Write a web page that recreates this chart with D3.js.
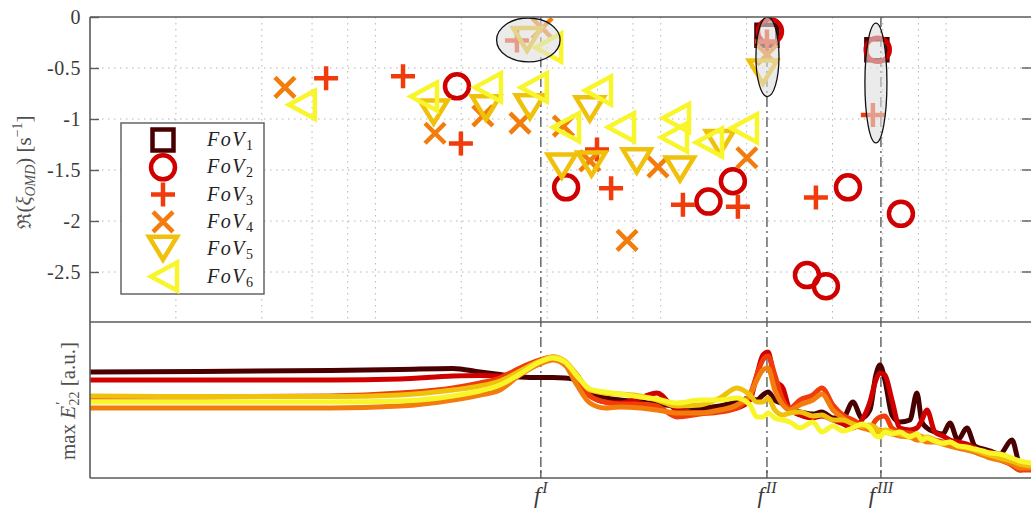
<!DOCTYPE html>
<html><head><meta charset="utf-8">
<script src="https://cdn.jsdelivr.net/npm/d3@7"></script>
<style>body{margin:0;background:#fff}svg{display:block}</style>
</head><body><svg id="c" width="1031" height="510"></svg>
<script>
// ================= DATA =================
const seriesNames = ["FoV1","FoV2","FoV3","FoV4","FoV5","FoV6"];
// top panel: frequency (a.u., log) and Re(xi_OMD) [1/s]
const fov1Freq = [117.8, 286];
const fov1Re   = [-0.18, -0.32];
const fov2Freq = [9.66, 23.3, 73.5, 89.5, 120.7, 162.7, 189.6, 226.5, 288, 347.3];
const fov2Re   = [-0.68, -1.67, -1.81, -1.61, -0.14, -2.53, -2.64, -1.67, -0.32, -1.93];
const fov3Freq = [3.36, 6.25, 9.97, 15.67, 29.9, 33.5, 59.8, 93.2, 117.8, 174.9, 277];
const fov3Re   = [-0.60, -0.58, -1.24, -0.23, -1.30, -1.68, -1.84, -1.86, -0.24, -1.77, -0.96];
const fov4Freq = [2.41, 8.09, 11.9, 16.06, 19.2, 22.8, 28.2, 38.1, 48.9, 100.2, 117.8];
const fov4Re   = [-0.69, -1.14, -0.97, -1.04, -0.11, -1.07, -1.41, -2.19, -1.47, -1.38, -0.37];
const fov5Freq = [8.0, 12.2, 17.4, 17.0, 28.2, 22.5, 28.6, 41.2, 58.4, 80.6, 114.1];
const fov5Re   = [-0.94, -0.90, -0.89, -0.23, -0.91, -1.47, -1.45, -1.42, -1.50, -1.24, -0.55];
const fov6Freq = [2.74, 7.34, 12.3, 17.8, 20.0, 23.1, 29.9, 36.0, 56.1, 55.2, 73.2, 97.1];
const fov6Re   = [-0.86, -0.78, -0.69, -0.69, -0.30, -1.08, -0.72, -1.08, -0.99, -1.18, -1.23, -1.09];

// cluster ellipses: [freqMin, freqMax, reTop, reBottom]
const clusterFreqMin = [13.3, 107.8, 259.7];
const clusterFreqMax = [22.2, 129.8, 310.2];
const clusterReTop   = [-0.01, 0.0, -0.06];
const clusterReBot   = [-0.44, -0.78, -1.235];

const yTicks = [0, -0.5, -1, -1.5, -2, -2.5];
const gridFreqs = [1,2,3,4,5,10,20,30,40,50,100,200,300,400,500];
const fMarks = [19.0, 117.8, 295.5];
const fLabels = ["I","II","III"];

// bottom panel: spectra, max E'_22 (a.u.)
const specFreq = [0.5,1.21,3.47,6.10,9.35,11.63,13.66,16.06,18.87,20.95,23.08,25.43,28.24,31.87,35.97,42.28,48.49,57.0,68.6,80.6,92.5,102.7,108.6,114.0,118.8,125.6,134.0,141.8,153.7,170.7,183.5,200.7,217.4,235.7,253.5,270.4,283.8,293.1,305.2,323.0,344.5,373.4,395.1,411.4,428.3,456.7,487.3,515.5,550,591.4,630.6,672.6,712,771.9,850.5,907.2,991];
const spec1 = [106,106.5,107.5,108.5,109.5,106,103.5,101,100.5,100.5,100,98,86,80,78,76,74,72,70,72,76,80,78,83,86,78,74,68,66,64,66,60,60,76,60,68,103,113,98,63,56,58,85,56,50,46,44,55,38,50,32,29,27,24,38,14,12];
const spec2 = [98,98,98,99,102,102.5,102,108,116,119,115,103,83,76,75,80,85,68,65,68,70,78,103,123,126,98,90,68,63,60,62,58,54,50,58,76,98,105,103,78,50,48,50,58,68,46,42,38,36,34,30,26,26,20,13,8,12];
const spec3 = [81,81,82,85,90,95,100,110,118,121,116,100,82,76,74,74,72,61,64,66,70,83,103,118,122,103,78,70,78,83,90,73,63,58,53,50,58,61,62,50,46,45,43,41,40,38,36,34,32,30,26,23,22,18,13,8,8];
const spec4 = [70,70,70,72,78,83,88,103,114,118,113,93,75,70,71,70,68,65,65,68,73,83,98,108,110,88,73,68,73,78,84,68,60,54,50,48,46,48,46,44,42,41,38,38,36,36,34,32,30,28,26,23,20,18,14,10,10];
const spec5 = [82,81.5,81.5,83,88,92,97,107,117,121,117,103,88,85,84,82,78,72,73,80,90,83,76,76,80,68,63,65,66,62,63,58,58,54,52,53,50,46,48,46,44,42,44,40,41,38,34,36,32,30,28,25,23,20,17,14,12];
const spec6 = [76,76,76,77,82,87,93,104,116,120,116,102,89,86,84,81,79,75,78,78,80,73,61,61,65,60,58,56,50,56,46,52,47,50,54,50,42,41,46,44,46,41,44,38,40,37,35,36,32,31,29,27,25,24,20,17,15];

// ================= STYLE / LAYOUT =================
const colors = ["#4a0000","#d10000","#f03c0a","#f37d0c","#f0c10a","#f8f52a"];
const shapes = ["square","circle","plus","cross","down","left"];
const L=90, R=1032, T1=17, B1=322, B2=478;
const serif = "'Liberation Serif','DejaVu Serif',serif";
const axisCol = "#5a5a5a", textCol = "#3a3a3a";

const svg = d3.select("#c");
const x = d3.scaleLog().domain([0.5,1000]).range([L,R]);
const yTop = d3.scaleLinear().domain([-3,0]).range([323,17]);
const yBot = d3.scaleLinear().domain([0,156]).range([B2,B1]);

const defs = svg.append("defs");
defs.append("clipPath").attr("id","clipB").append("rect").attr("x",L).attr("y",B1).attr("width",R-L).attr("height",B2-B1);
defs.append("clipPath").attr("id","clipT").append("rect").attr("x",L).attr("y",T1).attr("width",R-L).attr("height",B1-T1);

// ---- grid (top panel) ----
const grid = svg.append("g");
grid.selectAll("line.v").data(gridFreqs).join("line")
  .attr("x1",d=>x(d)).attr("x2",d=>x(d)).attr("y1",T1).attr("y2",B1)
  .attr("stroke","#b4b4b4").attr("stroke-width",1).attr("stroke-dasharray","1.5,4.5");
grid.selectAll("line.h").data(yTicks.filter(d=>d!==0)).join("line")
  .attr("x1",L).attr("x2",R).attr("y1",d=>yTop(d)).attr("y2",d=>yTop(d))
  .attr("stroke","#b4b4b4").attr("stroke-width",1).attr("stroke-dasharray","1.5,4.5");

// ---- dash-dot frequency markers ----
const fl = svg.append("g");
fMarks.forEach(f=>{
  fl.append("line").attr("x1",x(f)).attr("x2",x(f)).attr("y1",T1).attr("y2",B2)
    .attr("stroke","#707070").attr("stroke-width",1.6).attr("stroke-dasharray","10,4,2,4");
});

// ---- spectra (bottom panel) ----
const specs = [spec1,spec2,spec3,spec4,spec5,spec6];
const line = d3.line().x(d=>x(d[0])).y(d=>yBot(d[1])).curve(d3.curveMonotoneX);
const gB = svg.append("g").attr("clip-path","url(#clipB)");
specs.forEach((s,i)=>{
  gB.append("path").attr("d", line(specFreq.map((f,j)=>[f,s[j]])))
    .attr("fill","none").attr("stroke",colors[i]).attr("stroke-width",5)
    .attr("stroke-linejoin","round").attr("stroke-linecap","round");
});

// ---- markers ----
function markerPath(shape){
  switch(shape){
    case "square": return "M-10.5,-10.5H10.5V10.5H-10.5Z";
    case "circle": return "M12,0A12,12 0 1 1 -12,0A12,12 0 1 1 12,0Z";
    case "plus": return "M-12,0H12M0,-12V12";
    case "cross": return "M-10,-10L10,10M-10,10L10,-10";
    case "down": return "M-14,-12.5L14,-12.5L0,10.5Z";
    case "left": return "M-12,0L14,-14L14,14Z";
  }
}
const topFreq = [fov1Freq,fov2Freq,fov3Freq,fov4Freq,fov5Freq,fov6Freq];
const topRe = [fov1Re,fov2Re,fov3Re,fov4Re,fov5Re,fov6Re];
const gM = svg.append("g");
topFreq.forEach((fs,i)=>{
  gM.selectAll(null).data(fs.map((f,j)=>[f,topRe[i][j]])).join("path")
    .attr("transform",d=>`translate(${x(d[0])},${yTop(d[1])})`)
    .attr("d",markerPath(shapes[i])).attr("fill","none")
    .attr("stroke",colors[i]).attr("stroke-width",4.5).attr("stroke-linejoin","miter");
});

// ---- cluster ellipses ----
const gE = svg.append("g").attr("clip-path","url(#clipT)");
clusterFreqMin.forEach((f0,i)=>{
  const x0=x(f0), x1=x(clusterFreqMax[i]), y0=yTop(clusterReTop[i]), y1=yTop(clusterReBot[i]);
  gE.append("ellipse").attr("cx",(x0+x1)/2).attr("cy",(y0+y1)/2)
    .attr("rx",(x1-x0)/2).attr("ry",(y1-y0)/2)
    .attr("fill","#dedede").attr("fill-opacity",0.6)
    .attr("stroke","#111").attr("stroke-width",1.3);
});

// ---- axes frames ----
const ax = svg.append("g").attr("stroke",axisCol).attr("stroke-width",1.6).attr("fill","none");
ax.append("line").attr("x1",L).attr("x2",R).attr("y1",T1).attr("y2",T1);
ax.append("line").attr("x1",L).attr("x2",R).attr("y1",B1).attr("y2",B1);
ax.append("line").attr("x1",L).attr("x2",R).attr("y1",B2).attr("y2",B2);
ax.append("line").attr("x1",L).attr("x2",L).attr("y1",T1).attr("y2",B2);
// y ticks (left inward and right inward)
const yAx = d3.axisLeft(yTop).tickValues(yTicks).tickSize(-9).tickPadding(9).tickFormat(d=>String(d));
const gy = svg.append("g").attr("transform",`translate(${L},0)`).call(yAx);
gy.select(".domain").remove();
gy.selectAll(".tick line").attr("stroke",axisCol).attr("stroke-width",1.4);
gy.selectAll(".tick text").attr("font-family",serif).attr("font-size",20).attr("fill",textCol).attr("letter-spacing","0.6px");
svg.append("g").selectAll("line").data(yTicks.filter(d=>d!==0)).join("line")
  .attr("x1",R-10).attr("x2",R).attr("y1",d=>yTop(d)).attr("y2",d=>yTop(d))
  .attr("stroke",axisCol).attr("stroke-width",1.4);
// f ticks on bottom axis
svg.append("g").selectAll("line").data(fMarks).join("line")
  .attr("x1",d=>x(d)).attr("x2",d=>x(d)).attr("y1",B2-8).attr("y2",B2)
  .attr("stroke",axisCol).attr("stroke-width",1.4);
// f labels
fMarks.forEach((f,i)=>{
  const t = svg.append("text").attr("x",x(f)).attr("y",503).attr("text-anchor","middle")
    .attr("font-family",serif).attr("font-style","italic").attr("font-size",23).attr("fill",textCol);
  t.append("tspan").text("f");
  t.append("tspan").attr("dy",-10).attr("font-size",16).attr("dx",2).text(fLabels[i]);
});

// ---- axis titles ----
const yl = svg.append("text").attr("transform","translate(31,172) rotate(-90)").attr("text-anchor","middle")
  .attr("font-family",serif).attr("font-size",21).attr("fill","#505050");
yl.append("tspan").attr("font-family","'DejaVu Serif',serif").attr("font-size",19).text("ℜ");
yl.append("tspan").text("(");
yl.append("tspan").attr("font-style","italic").text("ξ");
yl.append("tspan").attr("font-style","italic").attr("font-size",14).attr("dy",4).text("OMD");
yl.append("tspan").attr("dy",-4).text(") [s");
yl.append("tspan").attr("font-size",14).attr("dy",-9).text("−1");
yl.append("tspan").attr("dy",9).text("]");

const bl = svg.append("text").attr("transform","translate(75,401) rotate(-90)").attr("text-anchor","middle")
  .attr("font-family",serif).attr("font-size",21).attr("fill","#505050");
bl.append("tspan").text("max ");
bl.append("tspan").attr("font-style","italic").text("E");
bl.append("tspan").attr("font-size",15).attr("dy",-9).attr("dx",1).text("′");
bl.append("tspan").attr("font-size",14).attr("dy",13).attr("dx",-4).text("22");
bl.append("tspan").attr("dy",-4).text(" [a.u.]");

// ---- legend ----
const lg = svg.append("g");
lg.append("rect").attr("x",121).attr("y",123).attr("width",143).attr("height",171)
  .attr("fill","#fff").attr("stroke",axisCol).attr("stroke-width",1.4);
seriesNames.forEach((n,i)=>{
  const yy = 140 + i*27.3;
  lg.append("path").attr("transform",`translate(163,${yy})`).attr("d",markerPath(shapes[i]))
    .attr("fill","none").attr("stroke",colors[i]).attr("stroke-width",4.5);
  const t = lg.append("text").attr("x",207).attr("y",yy+6).attr("font-family",serif)
    .attr("font-size",20).attr("fill","#222");
  t.append("tspan").attr("font-style","italic").attr("letter-spacing","1.5px").text(n.slice(0,3));
  t.append("tspan").attr("font-size",14).attr("dy",4).text(n.slice(3));
});
</script></body></html>
